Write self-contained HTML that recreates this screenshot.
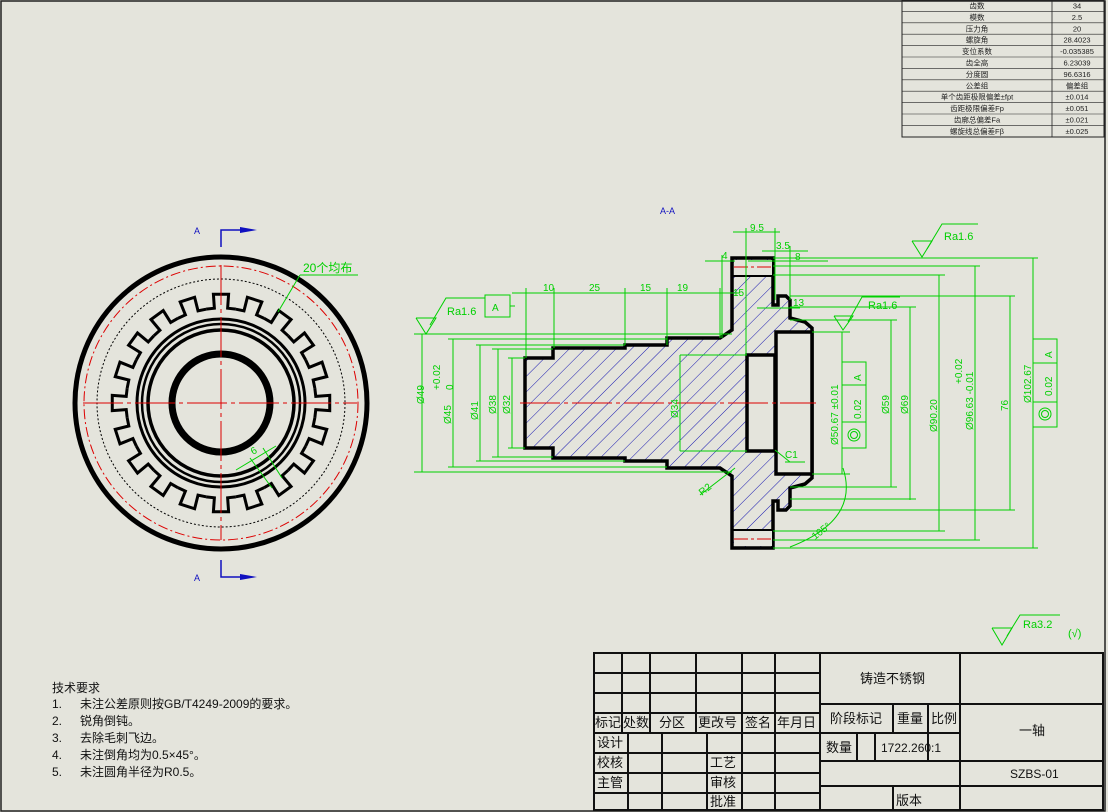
<!DOCTYPE html>
<html><head><meta charset="utf-8"><style>
html,body{margin:0;padding:0;background:#e4e4dc;}
svg{display:block;}
text{font-family:"Liberation Sans","Noto Sans CJK SC",sans-serif;}
</style></head><body>
<svg width="1108" height="812" viewBox="0 0 1108 812" xmlns="http://www.w3.org/2000/svg">
<defs>
<pattern id="h" patternUnits="userSpaceOnUse" width="11" height="11" patternTransform="rotate(45)">
<line x1="0" y1="0" x2="0" y2="11" stroke="#1818b0" stroke-width="1"/>
</pattern>
<path id="tooth" d="M -14.86 -93.83 L -6.63 -94.77 L -7.6 -108.73 L 7.6 -108.73 L 6.63 -94.77 L 14.86 -93.83" fill="none" stroke="#000" stroke-width="3"/>
</defs>
<rect x="0" y="0" width="1108" height="812" fill="#e4e4dc"/>
<rect x="1" y="1" width="1104" height="810" fill="none" stroke="#222" stroke-width="1.5"/>

<!-- top right table -->
<g font-size="7.5" fill="#222" text-anchor="middle">
<rect x="902" y="0" width="202" height="137" fill="none" stroke="#222" stroke-width="1"/>
<line x1="1052" y1="0" x2="1052" y2="137" stroke="#222" stroke-width="0.8"/>
<g stroke="#222" stroke-width="0.6">
<line x1="902" y1="11.4" x2="1104" y2="11.4"/><line x1="902" y1="22.8" x2="1104" y2="22.8"/><line x1="902" y1="34.2" x2="1104" y2="34.2"/><line x1="902" y1="45.6" x2="1104" y2="45.6"/><line x1="902" y1="57" x2="1104" y2="57"/><line x1="902" y1="68.4" x2="1104" y2="68.4"/><line x1="902" y1="79.8" x2="1104" y2="79.8"/><line x1="902" y1="91.2" x2="1104" y2="91.2"/><line x1="902" y1="102.6" x2="1104" y2="102.6"/><line x1="902" y1="114" x2="1104" y2="114"/><line x1="902" y1="125.4" x2="1104" y2="125.4"/>
</g>
<text x="977" y="8.5">齿数</text><text x="1077" y="8.5">34</text>
<text x="977" y="19.9">模数</text><text x="1077" y="19.9">2.5</text>
<text x="977" y="31.3">压力角</text><text x="1077" y="31.3">20</text>
<text x="977" y="42.7">螺旋角</text><text x="1077" y="42.7">28.4023</text>
<text x="977" y="54.1">变位系数</text><text x="1077" y="54.1">-0.035385</text>
<text x="977" y="65.5">齿全高</text><text x="1077" y="65.5">6.23039</text>
<text x="977" y="76.9">分度圆</text><text x="1077" y="76.9">96.6316</text>
<text x="977" y="88.3">公差组</text><text x="1077" y="88.3">偏差组</text>
<text x="977" y="99.7">单个齿距极限偏差±fpt</text><text x="1077" y="99.7">±0.014</text>
<text x="977" y="111.1">齿距极限偏差Fp</text><text x="1077" y="111.1">±0.051</text>
<text x="977" y="122.5">齿廓总偏差Fa</text><text x="1077" y="122.5">±0.021</text>
<text x="977" y="133.9">螺旋线总偏差Fβ</text><text x="1077" y="133.9">±0.025</text>
</g>

<!-- gear view -->
<g>
<circle cx="221" cy="403" r="146" fill="none" stroke="#000" stroke-width="5"/>
<circle cx="221" cy="403" r="137" fill="none" stroke="#d00" stroke-width="1" stroke-dasharray="10,3,2,3"/>
<circle cx="221" cy="403" r="124" fill="none" stroke="#000" stroke-width="1" stroke-dasharray="2,2"/>
<g transform="translate(221,403)">
<use href="#tooth" transform="rotate(0)"/><use href="#tooth" transform="rotate(18)"/><use href="#tooth" transform="rotate(36)"/><use href="#tooth" transform="rotate(54)"/><use href="#tooth" transform="rotate(72)"/><use href="#tooth" transform="rotate(90)"/><use href="#tooth" transform="rotate(108)"/><use href="#tooth" transform="rotate(126)"/><use href="#tooth" transform="rotate(144)"/><use href="#tooth" transform="rotate(162)"/><use href="#tooth" transform="rotate(180)"/><use href="#tooth" transform="rotate(198)"/><use href="#tooth" transform="rotate(216)"/><use href="#tooth" transform="rotate(234)"/><use href="#tooth" transform="rotate(252)"/><use href="#tooth" transform="rotate(270)"/><use href="#tooth" transform="rotate(288)"/><use href="#tooth" transform="rotate(306)"/><use href="#tooth" transform="rotate(324)"/><use href="#tooth" transform="rotate(342)"/>
</g>
<circle cx="221" cy="403" r="84" fill="none" stroke="#000" stroke-width="3"/>
<circle cx="221" cy="403" r="79" fill="none" stroke="#000" stroke-width="2.5"/>
<circle cx="221" cy="403" r="73" fill="none" stroke="#000" stroke-width="3.5"/>
<circle cx="221" cy="403" r="49" fill="none" stroke="#000" stroke-width="7"/>
<line x1="83" y1="403" x2="357" y2="403" stroke="#d00" stroke-width="1" stroke-dasharray="40,4,4,4"/>
<line x1="221" y1="265" x2="221" y2="540" stroke="#d00" stroke-width="1" stroke-dasharray="40,4,4,4"/>
<g stroke="#00d000" stroke-width="1" fill="none">
<line x1="278" y1="312" x2="300" y2="275"/><line x1="300" y1="275" x2="358" y2="275"/>
<line x1="236" y1="470" x2="276" y2="446"/><line x1="250" y1="458" x2="272" y2="488"/><line x1="263" y1="448" x2="282" y2="478"/>
</g>
<text x="303" y="272" font-size="12" fill="#00d000">20个均布</text>
<text x="253" y="455" font-size="10" fill="#00d000" transform="rotate(-30 253 455)">6</text>
<g fill="#1010c0" font-size="9">
<text x="194" y="234">A</text><text x="194" y="581">A</text>
</g>
<g stroke="#1010c0" stroke-width="1.5" fill="none">
<polyline points="221,247 221,230 245,230"/><polyline points="221,560 221,577 245,577"/>
</g>
<polygon points="240,227 257,230 240,233" fill="#1010c0"/>
<polygon points="240,574 257,577 240,580" fill="#1010c0"/>
</g>

<!-- section A-A -->
<text x="660" y="214" font-size="9" fill="#1010c0">A-A</text>
<polygon fill="url(#h)" stroke="#000" stroke-width="3.5" stroke-linejoin="miter"
points="525,358 553,358 553,348 625,348 625,345 667,345 667,338 720,338 732,330 732,258 773,258 773,305 778,305 778,296 786,296 790,300 790,318 805,322 812,328 812,478 805,484 790,488 790,506 786,510 778,510 778,501 773,501 773,548 732,548 732,476 720,468 667,468 667,461 625,461 625,458 553,458 553,448 525,448"/>
<rect x="734" y="260" width="38" height="16" fill="#e4e4dc"/>
<rect x="734" y="530" width="38" height="16" fill="#e4e4dc"/>
<line x1="732" y1="276" x2="773" y2="276" stroke="#000" stroke-width="2"/>
<line x1="732" y1="530" x2="773" y2="530" stroke="#000" stroke-width="2"/>
<line x1="734" y1="267" x2="772" y2="267" stroke="#d00" stroke-width="1" stroke-dasharray="14,3,3,3"/>
<line x1="734" y1="539" x2="772" y2="539" stroke="#d00" stroke-width="1" stroke-dasharray="14,3,3,3"/>
<rect x="776" y="332" width="36" height="142" fill="#e4e4dc" stroke="#000" stroke-width="3.5"/>
<rect x="747" y="355" width="28" height="96" fill="#e4e4dc" stroke="#000" stroke-width="3.5"/>
<line x1="520" y1="403" x2="816" y2="403" stroke="#d00" stroke-width="1" stroke-dasharray="40,4,4,4"/>

<g stroke="#00d000" stroke-width="1" fill="none">
<line x1="414" y1="334" x2="732" y2="334"/><line x1="414" y1="472" x2="732" y2="472"/>
<line x1="448" y1="339" x2="667" y2="339"/><line x1="448" y1="467" x2="667" y2="467"/>
<line x1="476" y1="345" x2="625" y2="345"/><line x1="476" y1="461" x2="625" y2="461"/>
<line x1="492" y1="349" x2="553" y2="349"/><line x1="492" y1="457" x2="553" y2="457"/>
<line x1="508" y1="358" x2="525" y2="358"/><line x1="508" y1="448" x2="525" y2="448"/>
<line x1="422" y1="334" x2="422" y2="472"/><line x1="453" y1="339" x2="453" y2="467"/>
<line x1="480" y1="345" x2="480" y2="461"/><line x1="498" y1="349" x2="498" y2="457"/>
<line x1="512" y1="358" x2="512" y2="448"/>
<line x1="680" y1="355" x2="747" y2="355"/><line x1="680" y1="451" x2="747" y2="451"/>
<line x1="680" y1="355" x2="680" y2="451"/>
<line x1="512" y1="293" x2="740" y2="293"/>
<line x1="526" y1="288" x2="526" y2="358"/><line x1="554" y1="288" x2="554" y2="348"/>
<line x1="625" y1="288" x2="625" y2="345"/><line x1="667" y1="288" x2="667" y2="345"/>
<line x1="720" y1="288" x2="720" y2="338"/>
<line x1="705" y1="261" x2="735" y2="261"/><line x1="748" y1="261" x2="812" y2="261"/>
<line x1="722" y1="255" x2="722" y2="338"/><line x1="746" y1="228" x2="746" y2="355"/>
<line x1="733" y1="232" x2="780" y2="232"/><line x1="775" y1="228" x2="775" y2="300"/>
<line x1="762" y1="251" x2="808" y2="251"/><line x1="790" y1="246" x2="790" y2="300"/>
<line x1="778" y1="261" x2="828" y2="261"/>
<line x1="757" y1="308" x2="800" y2="308"/>
<polyline points="416,318 426,334 436,318 416,318"/>
<polyline points="430,325 446,298 485,298"/>
<rect x="485" y="295" width="25" height="22"/>
<line x1="510" y1="306" x2="515" y2="306"/>
<line x1="812" y1="332" x2="850" y2="332"/><line x1="812" y1="474" x2="850" y2="474"/>
<line x1="790" y1="320" x2="897" y2="320"/><line x1="790" y1="487" x2="897" y2="487"/>
<line x1="790" y1="307" x2="916" y2="307"/><line x1="790" y1="499" x2="916" y2="499"/>
<line x1="773" y1="275" x2="945" y2="275"/><line x1="773" y1="531" x2="945" y2="531"/>
<line x1="773" y1="266" x2="980" y2="266"/><line x1="773" y1="540" x2="980" y2="540"/>
<line x1="790" y1="296" x2="1015" y2="296"/><line x1="790" y1="510" x2="1015" y2="510"/>
<line x1="773" y1="258" x2="1038" y2="258"/><line x1="773" y1="548" x2="1038" y2="548"/>
<line x1="842" y1="332" x2="842" y2="474"/><line x1="891" y1="320" x2="891" y2="487"/>
<line x1="910" y1="307" x2="910" y2="500"/><line x1="939" y1="275" x2="939" y2="531"/>
<line x1="975" y1="266" x2="975" y2="540"/><line x1="1010" y1="296" x2="1010" y2="510"/>
<line x1="1033" y1="258" x2="1033" y2="548"/>
<rect x="842" y="362" width="24" height="86"/><line x1="842" y1="385" x2="866" y2="385"/><line x1="842" y1="422" x2="866" y2="422"/>
<circle cx="854" cy="435" r="6"/><circle cx="854" cy="435" r="3.5"/>
<rect x="1033" y="339" width="24" height="88"/><line x1="1033" y1="363" x2="1057" y2="363"/><line x1="1033" y1="402" x2="1057" y2="402"/>
<circle cx="1045" cy="414" r="6"/><circle cx="1045" cy="414" r="3.5"/>
<polyline points="912,241 922,257 932,241 912,241"/>
<polyline points="927,249 942,224 978,224"/>
<polyline points="834,316 843,330 853,316 834,316"/>
<polyline points="848,322 862,297 900,297"/>
<line x1="700" y1="495" x2="735" y2="468"/>
<line x1="775" y1="450" x2="790" y2="462"/><line x1="785" y1="462" x2="805" y2="462"/>
<path d="M 843 468 Q 860 520 790 547"/>
<polyline points="992,628 1002,645 1012,628 992,628"/>
<polyline points="1007,636 1020,615 1060,615"/>
</g>
<g fill="#00d000" font-size="10">
<text x="447" y="315" font-size="11">Ra1.6</text>
<text x="492" y="311">A</text>
<text x="543" y="291">10</text><text x="589" y="291">25</text><text x="640" y="291">15</text><text x="677" y="291">19</text><text x="733" y="296">15</text>
<text x="722" y="259">4</text><text x="750" y="231">9.5</text><text x="776" y="249">3.5</text><text x="795" y="260">8</text><text x="793" y="306">13</text>
<text x="424" y="404" transform="rotate(-90 424 404)">Ø49</text>
<text x="440" y="390" transform="rotate(-90 440 390)">+0.02</text>
<text x="453" y="390" transform="rotate(-90 453 390)">0</text>
<text x="451" y="424" transform="rotate(-90 451 424)">Ø45</text>
<text x="478" y="420" transform="rotate(-90 478 420)">Ø41</text>
<text x="496" y="414" transform="rotate(-90 496 414)">Ø38</text>
<text x="510" y="414" transform="rotate(-90 510 414)">Ø32</text>
<text x="678" y="418" transform="rotate(-90 678 418)">Ø34</text>
<text x="785" y="458">C1</text>
<text x="702" y="496" transform="rotate(-38 702 496)">R2</text>
<text x="815" y="540" transform="rotate(-38 815 540)">105°</text>
<text x="838" y="445" transform="rotate(-90 838 445)">Ø50.67 ±0.01</text>
<text x="861" y="381" transform="rotate(-90 861 381)">A</text>
<text x="861" y="419" transform="rotate(-90 861 419)">0.02</text>
<text x="868" y="309" font-size="11">Ra1.6</text>
<text x="889" y="414" transform="rotate(-90 889 414)">Ø59</text>
<text x="908" y="414" transform="rotate(-90 908 414)">Ø69</text>
<text x="937" y="432" transform="rotate(-90 937 432)">Ø90.20</text>
<text x="962" y="384" transform="rotate(-90 962 384)">+0.02</text>
<text x="973" y="430" transform="rotate(-90 973 430)">Ø96.63 -0.01</text>
<text x="1008" y="411" transform="rotate(-90 1008 411)">76</text>
<text x="1031" y="403" transform="rotate(-90 1031 403)">Ø102.67</text>
<text x="1052" y="358" transform="rotate(-90 1052 358)">A</text>
<text x="1052" y="396" transform="rotate(-90 1052 396)">0.02</text>
<text x="944" y="240" font-size="11">Ra1.6</text>
<text x="1023" y="628" font-size="11">Ra3.2</text>
<text x="1068" y="637" font-size="11">(√)</text>
</g>

<g font-size="12" fill="#111">
<text x="52" y="692">技术要求</text>
<text x="52" y="708">1.</text><text x="80" y="708">未注公差原则按GB/T4249-2009的要求。</text>
<text x="52" y="725">2.</text><text x="80" y="725">锐角倒钝。</text>
<text x="52" y="742">3.</text><text x="80" y="742">去除毛刺飞边。</text>
<text x="52" y="759">4.</text><text x="80" y="759">未注倒角均为0.5×45°。</text>
<text x="52" y="776">5.</text><text x="80" y="776">未注圆角半径为R0.5。</text>
</g>

<g stroke="#111" stroke-width="2" fill="none">
<rect x="594" y="653" width="509" height="157"/>
<line x1="594" y1="673" x2="820" y2="673"/><line x1="594" y1="693" x2="820" y2="693"/><line x1="594" y1="713" x2="820" y2="713"/>
<line x1="594" y1="733" x2="820" y2="733"/><line x1="594" y1="753" x2="820" y2="753"/><line x1="594" y1="773" x2="820" y2="773"/><line x1="594" y1="793" x2="820" y2="793"/>
<line x1="622" y1="653" x2="622" y2="733"/><line x1="650" y1="653" x2="650" y2="733"/><line x1="696" y1="653" x2="696" y2="733"/>
<line x1="742" y1="653" x2="742" y2="810"/><line x1="775" y1="653" x2="775" y2="810"/><line x1="820" y1="653" x2="820" y2="810"/>
<line x1="628" y1="733" x2="628" y2="810"/><line x1="662" y1="733" x2="662" y2="810"/><line x1="707" y1="733" x2="707" y2="810"/>
<line x1="960" y1="653" x2="960" y2="810"/>
<line x1="820" y1="704" x2="1103" y2="704"/><line x1="820" y1="733" x2="960" y2="733"/>
<line x1="820" y1="761" x2="1103" y2="761"/><line x1="820" y1="786" x2="1103" y2="786"/>
<line x1="893" y1="704" x2="893" y2="733"/><line x1="928" y1="704" x2="928" y2="761"/>
<line x1="857" y1="733" x2="857" y2="761"/><line x1="875" y1="733" x2="875" y2="761"/>
<line x1="893" y1="786" x2="893" y2="810"/>
</g>
<g font-size="13" fill="#111">
<text x="595" y="727">标记</text><text x="623" y="727">处数</text><text x="659" y="727">分区</text><text x="698" y="727">更改号</text><text x="745" y="727">签名</text><text x="777" y="727">年月日</text>
<text x="597" y="747">设计</text><text x="597" y="767">校核</text><text x="597" y="787">主管</text>
<text x="710" y="767">工艺</text><text x="710" y="787">审核</text><text x="710" y="806">批准</text>
<text x="860" y="683">铸造不锈钢</text>
<text x="830" y="723">阶段标记</text><text x="897" y="723">重量</text><text x="931" y="723">比例</text>
<text x="826" y="752">数量</text><text x="881" y="752" font-size="12">1722.260:1</text>
<text x="1019" y="735">一轴</text>
<text x="1010" y="778" font-size="12">SZBS-01</text>
<text x="896" y="805">版本</text>
</g>
</svg>
</body></html>
